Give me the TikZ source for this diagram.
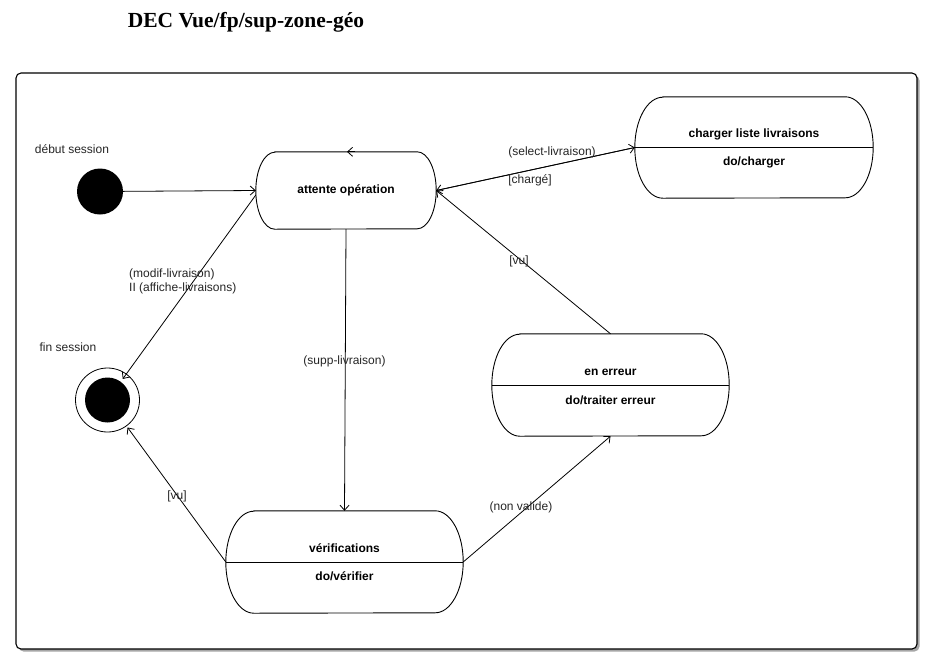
\documentclass[tikz,border=0pt]{standalone}
\usepackage{fontspec}
\setsansfont{Liberation Sans}
\newfontfamily\titlefont{Liberation Serif}
\usetikzlibrary{arrows.meta,calc}
\newcommand\stdm[3]{%
  \draw[outline] ([xshift=#2pt]#1.north west) -- ([xshift=-#2pt]#1.north east)
    arc[start angle=90,end angle=-90,x radius=#2pt,y radius=#3pt]
    -- ([xshift=#2pt]#1.south west)
    arc[start angle=270,end angle=90,x radius=#2pt,y radius=#3pt] -- cycle;}
\tikzset{
  lbl/.style={font=\sffamily\fontsize{12}{14}\selectfont, inner sep=0pt, text=black!85},
  blbl/.style={font=\sffamily\bfseries\fontsize{12}{14}\selectfont, inner sep=0pt},
  statebox/.style={draw=none, inner sep=0pt, rectangle},
  outline/.style={draw=black, line width=0.9pt},
  arr/.style={draw=black, line width=0.8pt, -{Straight Barb[length=5pt,width=9pt]}},
}
\begin{document}
\begin{tikzpicture}[x=1pt,y=-1pt]
\useasboundingbox[fill=white] (0,0) rectangle (931,665);
% title
\node[font=\titlefont\bfseries\fontsize{21.5}{24}\selectfont, inner sep=0pt] (title) at (246,22) {DEC Vue/fp/sup-zone-géo};
% frame
\fill[black!35, rounded corners=5pt] (18.5,75.5) rectangle (919.5,651.5);
\draw[fill=white, line width=1.1pt, rounded corners=5pt] (16,73) rectangle (917,649);
% states
\node[statebox, minimum width=180pt, minimum height=77pt] (att) at (346,190.5) {};
\stdm{att}{19}{38.5}
\node[blbl] (attt) at (att.center) {attente opération};

\node[statebox, minimum width=238pt, minimum height=101pt] (ch) at (754,147.5) {};
\stdm{ch}{28}{50.5}
\draw[outline] (ch.west) -- (ch.east);
\node[blbl] (cht) at (754,134) {charger liste livraisons};
\node[blbl] (chd) at (754,162) {do/charger};

\node[statebox, minimum width=237pt, minimum height=102pt] (err) at (610.5,385) {};
\stdm{err}{28}{51}
\draw[outline] (err.west) -- (err.east);
\node[blbl] (errt) at (610.5,372) {en erreur};
\node[blbl] (errd) at (610.5,400) {do/traiter erreur};

\node[statebox, minimum width=237pt, minimum height=102pt] (ver) at (344.5,562) {};
\stdm{ver}{28}{51}
\draw[outline] (ver.west) -- (ver.east);
\node[blbl] (vert) at (344.5,548) {vérifications};
\node[blbl] (verd) at (344.5,576) {do/vérifier};

% pseudo states
\node[circle, fill=black, minimum size=46pt, inner sep=0pt] (start) at (100,191.5) {};
\node[lbl] (startl) at (72,149) {début session};
\node[circle, draw=black, line width=0.8pt, minimum size=64pt, inner sep=0pt] (fin) at (107.5,400) {};
\node[circle, fill=black, minimum size=45pt, inner sep=0pt] (finin) at (fin.center) {};
\node[lbl] (finl) at (68,347) {fin session};

% transitions
\draw[arr] (start) -- (att.west);
\draw[arr] ([xshift=9pt]att.north) -- ([xshift=1pt]att.north);
\draw[arr] (att.east) -- (ch.west);
\draw[arr] (ch.west) -- (att.east);
\node[lbl] (l1) at (552,152) {(select-livraison)};
\node[lbl] (l2) at (530,180) {[chargé]};

\coordinate (aw) at ([yshift=-4.5pt]att.west);
\draw[arr] (aw) -- ($(fin.center)!26pt!(aw)$);
\node[lbl, anchor=west, align=left] (l3) at (129,281) {(modif-livraison)\\II (affiche-livraisons)};

\draw[arr] (att.south) -- (ver.north);
\node[lbl] (l4) at (344.5,361) {(supp-livraison)};

\draw[arr] (err.north) -- (att.east);
\node[lbl] (l5) at (519,261) {[vu]};

\draw[arr] (ver.west) -- ($(fin.center)!34pt!(ver.west)$);
\node[lbl] (l6) at (177,496) {[vu]};

\draw[arr] (ver.east) -- (err.south);
\node[lbl] (l7) at (521,507) {(non valide)};
\end{tikzpicture}
\end{document}
